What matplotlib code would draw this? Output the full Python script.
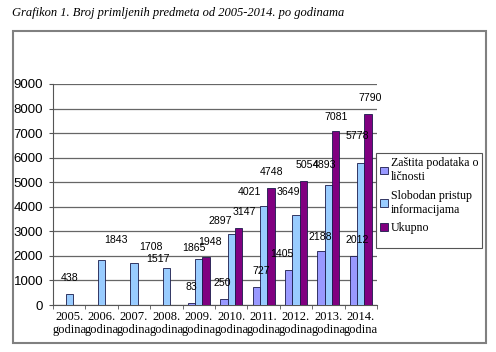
import numpy as np
import matplotlib.pyplot as plt
from matplotlib.patches import Rectangle

years = ["2005.", "2006.", "2007.", "2008.", "2009.", "2010.", "2011.", "2012.", "2013.", "2014."]
zastita = [None, None, None, None, 83, 250, 727, 1405, 2188, 2012]
slobodan = [438, 1843, 1708, 1517, 1865, 2897, 4021, 3649, 4893, 5778]
ukupno = [None, None, None, None, 1948, 3147, 4748, 5054, 7081, 7790]

series_names = ["Zaštita podataka o\nličnosti", "Slobodan pristup\ninformacijama", "Ukupno"]
colors = ["#9999FF", "#99CCFF", "#800080"]

# label offsets in pixels (dx, dy) relative to bar top centre
offsets = [
    [None, None, None, None, (0, 11), (-2, 11), (5, 11), (-7, 11), (-1, 9), (4, 11)],
    [(0, 11), (14, 15), (17, 11), (-8, 4), (-5, 6), (-11, 8), (-14, 9), (-8, 18), (-4, 15), (-3, 22)],
    [None, None, None, None, (4, 10), (6, 11), (1, 11), (4, 11), (0, 9), (2, 11)],
]

W, H = 496, 352
fig = plt.figure(figsize=(W / 100, H / 100), dpi=100)
fig.patch.set_facecolor("white")

fig.text(12 / W, 1 - 13 / H, "Grafikon 1. Broj primljenih predmeta od 2005-2014. po godinama",
         family="Liberation Serif", style="italic", fontsize=9, va="center", ha="left")
fig.patches.append(Rectangle((13 / W, 1 - 343 / H), (486 - 13) / W, (343 - 31) / H,
                             transform=fig.transFigure, fill=False, edgecolor="#808080", lw=1.5))

ax = fig.add_axes([53 / W, 1 - 305 / H, (377 - 53) / W, (305 - 84) / H])
x = np.arange(len(years))
bw = 0.225
handles = []
for k, (vals, col, name) in enumerate(zip([zastita, slobodan, ukupno], colors, series_names)):
    xs = [x[i] + (k - 1) * bw for i in range(len(years)) if vals[i] is not None]
    hs = [v for v in vals if v is not None]
    b = ax.bar(xs, hs, width=bw, color=col, edgecolor="#1a1a4a", lw=0.6, zorder=3, label=name)
    handles.append(b)
    for i, v in enumerate(vals):
        if v is None:
            continue
        dx, dy = offsets[k][i]
        ax.annotate(str(v), (x[i] + (k - 1) * bw, v), xytext=(dx * 0.72, dy * 0.72),
                    textcoords="offset points", ha="center", va="bottom",
                    family="Liberation Sans", fontsize=7.6, zorder=4)

ax.set_xlim(-0.5, len(years) - 0.5)
ax.set_ylim(0, 9000)
ax.set_yticks(range(0, 9001, 1000))
ax.set_yticklabels([str(v) for v in range(0, 9001, 1000)], family="Liberation Sans", fontsize=9.5)
ax.yaxis.grid(True, color="#666666", lw=0.9, zorder=0)
ax.set_xticks(x)
ax.set_xticklabels([y + "\ngodina" for y in years], family="Liberation Serif", fontsize=9, linespacing=1.15)
ax.set_xticks(np.arange(-0.5, len(years), 1), minor=True)
ax.tick_params(axis="x", which="major", length=0, pad=4)
ax.tick_params(axis="x", which="minor", length=3, direction="out", color="#555555")
ax.tick_params(axis="y", length=3, direction="out", pad=4, color="#555555")
for s in ["top", "right"]:
    ax.spines[s].set_visible(False)
ax.spines["left"].set_color("#555555")
ax.spines["bottom"].set_color("#555555")

# legend box drawn separately so its size matches the original
fig.patches.append(Rectangle((376 / W, 1 - 248 / H), (482 - 376) / W, (248 - 153) / H,
                             transform=fig.transFigure, facecolor="white", edgecolor="#555555",
                             lw=0.8, zorder=5))
leg = fig.legend(handles=handles, loc="upper left", bbox_to_anchor=(378 / W, 1 - 155 / H),
                 prop={"family": "Liberation Serif", "size": 8.6}, frameon=False,
                 handlelength=0.6, handleheight=0.6, handletextpad=0.3,
                 borderpad=0.2, labelspacing=0.55, borderaxespad=0)
leg.set_zorder(6)
for t in leg.get_texts():
    t.set_linespacing(1.2)

fig.savefig("out.png", dpi=100)
